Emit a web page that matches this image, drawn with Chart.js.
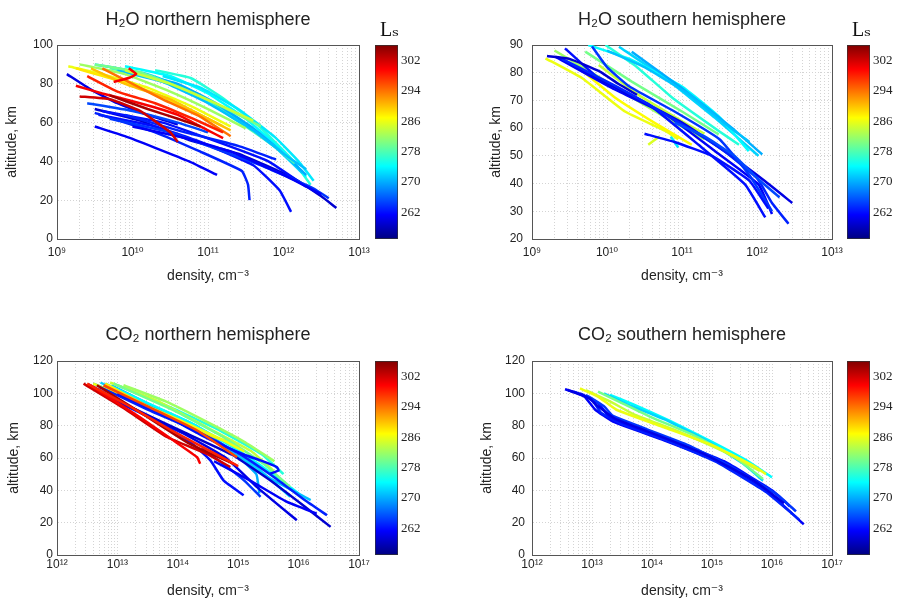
<!DOCTYPE html>
<html>
<head>
<meta charset="utf-8">
<script src="https://cdn.jsdelivr.net/npm/chart.js@4.4.1/dist/chart.umd.min.js"></script>
<style>
  html, body { margin: 0; padding: 0; background: #fff; overflow: hidden; }
  #wrap { position: relative; width: 899px; height: 599px; overflow: hidden; }
  #wrap canvas { position: absolute; }
</style>
</head>
<body>
<div id="wrap">
  <canvas id="h2oN" width="416" height="300" style="left:0px;top:0px;width:416px;height:300px"></canvas>
  <canvas id="h2oS" width="434" height="300" style="left:465px;top:0px;width:434px;height:300px"></canvas>
  <canvas id="co2N" width="416" height="300" style="left:0px;top:300px;width:416px;height:300px"></canvas>
  <canvas id="co2S" width="434" height="300" style="left:465px;top:300px;width:434px;height:300px"></canvas>
  <canvas id="cbH2oN" width="76" height="300" style="left:353px;top:0px;width:76px;height:300px"></canvas>
  <canvas id="cbH2oS" width="75" height="300" style="left:824px;top:0px;width:75px;height:300px"></canvas>
  <canvas id="cbCo2N" width="76" height="300" style="left:353px;top:300px;width:76px;height:300px"></canvas>
  <canvas id="cbCo2S" width="75" height="300" style="left:824px;top:300px;width:75px;height:300px"></canvas>
</div>
<script>
// ---- data (density given as log10 of cm^-3, altitude in km, colour = Ls) ----
const lsMin = 255;
const lsMax = 306;
const colorbarTicks = [262, 270, 278, 286, 294, 302];

const h2oDecades = [9, 10, 11, 12, 13];
const co2Decades = [12, 13, 14, 15, 16, 17];
const minorSteps = [2, 3, 4, 5, 6, 7, 8, 9];
const h2oNorthAltTicks = [0, 20, 40, 60, 80, 100];
const h2oSouthAltTicks = [20, 30, 40, 50, 60, 70, 80, 90];
const co2AltTicks = [0, 20, 40, 60, 80, 100, 120];

// H2O, northern hemisphere (drawn in this order, last on top)
const h2oNorthLs = [276, 274, 272, 270, 278, 273, 271,
  286, 282, 280, 284, 288,
  260, 261, 259, 262, 263, 262, 264, 261, 263, 265,
  290, 294, 298, 300, 302, 304, 300];
const h2oNorthDen = [
  [10.3, 10.77, 11.2, 11.65, 12.09, 12.36],
  [9.9, 10.5, 11.0, 11.5, 12.0, 12.3],
  [9.5, 10.2, 10.8, 11.4, 11.9, 12.25],
  [10.0, 10.6, 11.1, 11.6, 12.0, 12.3],
  [9.7, 10.3, 10.9, 11.5, 11.9, 12.15],
  [10.4, 10.9, 11.4, 11.9, 12.2, 12.4],
  [9.8, 10.4, 11.0, 11.6, 12.0, 12.3],
  [9.15, 9.6, 10.2, 10.8, 11.3],
  [9.3, 9.9, 10.5, 11.0, 11.5],
  [9.5, 10.1, 10.7, 11.2, 11.7],
  [9.9, 10.5, 11.1, 11.6],
  [9.25, 9.7, 10.3, 10.9, 11.2],
  [9.13, 9.45, 9.8, 10.2, 10.6],
  [9.5, 9.9, 10.3, 10.75, 11.12],
  [9.5, 10.1, 10.75, 11.4, 12.1, 12.5, 12.7],
  [9.55, 10.3, 10.9, 11.6, 11.95, 12.1],
  [9.5, 10.3, 10.9, 11.45, 11.53, 11.55],
  [9.6, 10.4, 11.2, 11.8, 12.3],
  [9.7, 10.5, 11.0, 11.7, 12.4, 12.6],
  [10.0, 10.7, 11.3, 12.0, 12.5],
  [9.9, 10.6, 11.4, 11.9],
  [9.4, 10.0, 10.6, 11.0],
  [9.45, 9.9, 10.5, 11.0, 11.3],
  [9.6, 10.0, 10.4, 10.9, 11.3],
  [9.4, 9.8, 10.3, 10.8, 11.2],
  [9.25, 9.6, 10.1, 10.6, 11.0, 11.2],
  [9.3, 9.7, 10.1, 10.5, 10.6],
  [9.7, 10.2, 10.6, 10.9],
  [9.75, 9.95, 10.05, 9.95]
];
const h2oNorthAlt = [
  [87, 83, 72.6, 59, 42, 28],
  [89, 84, 75, 62, 45, 32],
  [90, 85, 76, 62, 47, 34],
  [86, 80, 70, 57, 44, 33],
  [88, 83, 73, 58, 47, 39],
  [84, 78, 67, 52, 40, 30],
  [87, 81, 70, 56, 44, 36],
  [89, 85, 78, 68, 58],
  [90, 85, 76, 67, 57],
  [90, 86, 77, 68, 58],
  [87, 80, 70, 61],
  [88, 83, 75, 64, 58],
  [85, 77, 70, 64, 59],
  [58, 53, 47, 40, 33],
  [67, 61, 51, 44, 32, 22, 16],
  [64, 58, 50, 38, 25, 14],
  [65, 55, 45, 35, 28, 20],
  [66, 60, 49, 40, 27],
  [62, 55, 48, 38, 26, 21],
  [58, 52, 45, 33, 23],
  [64, 56, 48, 41],
  [70, 66, 60, 55],
  [88, 80, 72, 62, 56],
  [88, 80, 72, 63, 53],
  [84, 76, 70, 62, 55],
  [79, 75, 70, 64, 56, 52],
  [73.5, 72, 66, 55, 50],
  [74, 67, 62, 58],
  [81, 83, 85, 88]
];

// H2O, southern hemisphere
const h2oSouthLs = [272, 274, 270, 276, 271, 273,
  286, 287, 284, 280, 285, 282,
  261, 262, 260, 263, 264, 259, 265, 262];
const h2oSouthDen = [
  [10.16, 10.78, 11.44, 12.02],
  [9.75, 10.3, 11.0, 11.5, 11.89],
  [10.33, 11.0, 11.67, 12.07],
  [9.98, 10.4, 10.87, 11.49, 11.76],
  [10.0, 10.5, 11.1, 11.6, 11.9],
  [10.85, 10.9, 10.95],
  [9.18, 9.67, 10.24, 10.78, 10.95],
  [9.58, 10.11, 10.69, 11.13],
  [9.89, 10.42, 11.0, 11.3],
  [9.71, 10.33, 11.0, 11.49],
  [10.55, 10.7],
  [9.3, 9.8, 10.4, 10.9, 11.3],
  [9.31, 10.07, 10.78, 11.44, 12.02, 12.2],
  [9.44, 9.89, 10.56, 11.22, 11.84, 12.11],
  [9.6, 10.3, 11.0, 11.6, 12.1, 12.47],
  [9.4, 10.2, 10.9, 11.5, 12.0, 12.2, 12.42],
  [9.8, 10.0, 10.3, 10.9, 11.5, 11.9, 12.2],
  [9.2, 9.5, 9.9, 10.15, 10.4],
  [10.9, 11.3, 11.7, 12.0, 12.3],
  [10.5, 10.9, 11.4, 11.9, 12.15]
];
const h2oSouthAlt = [
  [89.4, 78, 63.7, 50],
  [90, 85, 75, 64, 51.7],
  [87.6, 74.4, 60, 50.5],
  [90, 82, 71, 59, 54],
  [88, 82, 72, 61, 55],
  [57, 55, 53],
  [85.2, 78, 66, 59, 56],
  [82.8, 71, 61, 54],
  [82.8, 72, 62.5, 58],
  [87.6, 76.8, 66, 57.7],
  [54, 57],
  [88, 80, 70, 62, 56],
  [85.8, 74.4, 65, 51.7, 39.7, 29],
  [88.8, 78, 68.5, 54, 39.7, 27.8],
  [82, 72, 62, 51, 41, 33],
  [85, 74, 63, 53, 42, 33, 25.5],
  [89.5, 82, 75, 66, 56, 43, 30],
  [86, 85, 80.5, 76, 72],
  [62, 57, 50, 42, 35],
  [58, 55, 50, 41, 31]
];

// CO2, northern hemisphere
const co2NorthLs = [272, 270, 274, 276, 271,
  284, 288, 280, 286, 282,
  262, 260, 263, 259, 262, 264, 261,
  302, 300, 304, 296, 298];
const co2NorthDen = [
  [12.72, 13.66, 14.48, 15.31, 15.86],
  [12.9, 13.6, 14.3, 14.9, 15.3, 15.35],
  [12.8, 13.5, 14.2, 14.9, 15.5, 16.0],
  [13.0, 13.9, 14.7, 15.4, 15.75],
  [12.6, 13.4, 14.1, 14.8, 15.4, 16.2],
  [12.88, 13.66, 14.48, 15.2, 15.59],
  [12.8, 13.5, 14.32, 14.92],
  [12.94, 13.9, 14.76, 15.42, 15.86],
  [12.6, 13.3, 14.0, 14.7, 15.1],
  [13.1, 13.8, 14.5, 15.1, 15.6],
  [12.52, 13.1, 13.7, 14.2, 14.54, 14.76, 15.09],
  [12.6, 13.4, 14.1, 14.8, 15.31, 15.97],
  [12.7, 13.5, 14.3, 15.0, 15.6, 16.1, 16.47],
  [12.5, 13.3, 14.1, 14.9, 15.5, 16.1, 16.53],
  [13.0, 13.8, 14.5, 15.1, 15.37, 15.64, 15.67, 15.53],
  [14.4, 14.8, 15.1, 15.37],
  [14.6, 15.2, 15.8, 16.3],
  [12.44, 13.1, 13.82, 14.48, 14.87],
  [12.55, 13.38, 13.93, 14.32, 14.37],
  [12.66, 13.43, 14.2, 14.92],
  [12.77, 13.55, 14.32, 14.98],
  [12.5, 13.2, 13.9, 14.6, 15.0]
];
const co2NorthAlt = [
  [106.7, 89, 73, 54, 36],
  [105, 92, 80, 64, 50, 38],
  [106, 94, 82, 67, 52, 38],
  [105, 91, 77, 62, 50],
  [106, 94, 82, 66, 50, 34],
  [106.7, 95.4, 79, 64.6, 52],
  [106, 92, 77, 68.7],
  [106, 90, 72.8, 56.4, 42],
  [106, 95, 84, 72, 64],
  [105, 95, 82, 70, 58],
  [105.6, 93, 82, 70, 58.5, 46, 37],
  [104, 88, 75, 60, 42, 21.5],
  [104, 90, 77, 63, 48, 34, 24.6],
  [105, 90, 76, 62, 47, 30, 17.4],
  [100, 86, 72, 62, 58.5, 54.4, 52.3, 50.3],
  [66, 55, 46, 36],
  [58, 46, 33, 25.6],
  [106, 91, 73, 62.6, 54.4],
  [105, 85, 70.8, 60.5, 56.4],
  [105, 87, 68.7, 56.4],
  [105, 91, 77, 60.5],
  [106, 92, 77, 63, 55]
];

// CO2, southern hemisphere
const co2SouthLs = [274, 272, 280, 284, 286, 261, 263, 262, 264, 260];
const co2SouthDen = [
  [13.3, 13.7, 14.3, 15.0, 15.6, 16.0],
  [13.2, 13.6, 14.2, 14.9, 15.5, 15.85],
  [13.1, 13.5, 14.0, 14.7, 15.4, 15.85],
  [12.9, 13.3, 13.7, 14.4, 15.2, 15.8],
  [12.8, 13.1, 13.4, 14.2, 15.0, 15.7, 15.9],
  [12.55, 12.85, 13.05, 13.35, 14.2, 15.05, 15.9, 16.53],
  [12.7, 13.0, 13.15, 13.5, 14.3, 15.1, 15.9, 16.45],
  [12.8, 13.1, 13.3, 13.7, 14.4, 15.2, 16.0, 16.3],
  [12.9, 13.2, 13.35, 13.9, 14.6, 15.3, 16.1, 16.4],
  [12.6, 12.95, 13.1, 13.4, 14.1, 14.9, 15.7, 16.2]
];
const co2SouthAlt = [
  [99, 93, 83, 70, 58, 48],
  [100, 93, 84, 71, 57, 46],
  [101, 94, 85, 74, 60, 47],
  [102, 95, 87, 77, 64, 52],
  [103, 98, 90, 79, 68, 55, 50],
  [102.5, 99, 90, 82.5, 71, 58.5, 40, 19],
  [101, 96, 88, 81, 70, 57, 39, 22],
  [100, 94, 85, 79, 70, 58, 40, 30],
  [99, 92, 86, 78, 68, 55, 37, 27],
  [102, 97, 92, 84, 74, 62, 46, 32]
];

// ---- helpers ----
Chart.defaults.font.family = "'Liberation Sans', Arial, 'DejaVu Sans', sans-serif";
Chart.defaults.color = '#222';
const SERIF = "'Liberation Serif', 'DejaVu Serif', serif";

function jet(t) {
  const c = v => Math.round(255 * Math.max(0, Math.min(1, v)));
  return `rgb(${c(1.5 - Math.abs(4 * t - 3))},${c(1.5 - Math.abs(4 * t - 2))},${c(1.5 - Math.abs(4 * t - 1))})`;
}
function lsColor(ls) {
  return jet((ls - lsMin) / (lsMax - lsMin));
}

const SUP = { '0': '⁰', '1': '¹', '2': '²', '3': '³', '4': '⁴', '5': '⁵', '6': '⁶', '7': '⁷', '8': '⁸', '9': '⁹', '-': '⁻' };
const sup = n => String(n).split('').map(ch => SUP[ch]).join('');

function logTickValues(decades) {
  const vals = [];
  decades.forEach((d, i) => {
    vals.push(Math.pow(10, d));
    if (i < decades.length - 1) minorSteps.forEach(m => vals.push(m * Math.pow(10, d)));
  });
  return vals;
}
function decadeLabel(v) {
  const e = Math.log10(v);
  return Math.abs(e - Math.round(e)) < 1e-9 ? '10' + sup(Math.round(e)) : '';
}

const GRID = '#d4d4d4';
const FRAME = '#555';

function makePanel(id, p) {
  const datasets = p.ls.map((ls, i) => ({
    data: p.den[i].map((d, j) => ({ x: Math.pow(10, d), y: p.alt[i][j] })),
    borderColor: lsColor(ls),
    borderWidth: 2.5,
    showLine: true,
    pointRadius: 0,
    tension: 0.12,
    fill: false
  })).reverse();

  const xMin = Math.pow(10, p.decades[0]);
  const xMax = Math.pow(10, p.decades[p.decades.length - 1]);
  const yMin = p.yTicks[0];
  const yMax = p.yTicks[p.yTicks.length - 1];

  new Chart(document.getElementById(id), {
    type: 'scatter',
    data: { datasets },
    options: {
      responsive: false,
      animation: false,
      devicePixelRatio: 1,
      layout: { padding: 0 },
      plugins: {
        legend: { display: false },
        tooltip: { enabled: false },
        title: {
          display: true,
          text: p.title,
          color: '#222',
          font: { size: 18, weight: 'normal', lineHeight: 1 },
          padding: p.titlePad
        }
      },
      scales: {
        x: {
          type: 'logarithmic',
          min: xMin, max: xMax,
          afterBuildTicks: s => { s.ticks = logTickValues(p.decades).map(v => ({ value: v })); },
          afterFit: s => { s.height = p.xHeight; },
          ticks: { autoSkip: false, maxRotation: 0, padding: p.xTickPad, font: { size: 12 }, callback: v => decadeLabel(v) },
          grid: { color: GRID, drawTicks: false, lineWidth: 1 },
          border: { display: true, color: FRAME, dash: [1, 2] },
          title: { display: true, text: 'density, cm⁻³', font: { size: 14 }, padding: { top: 0, bottom: p.xTitlePad } }
        },
        x2: {
          type: 'logarithmic', position: 'top',
          min: xMin, max: xMax,
          ticks: { display: false },
          grid: { display: false },
          border: { display: true, color: FRAME },
          afterFit: s => { s.height = 0; }
        },
        y: {
          type: 'linear',
          min: yMin, max: yMax,
          afterBuildTicks: s => { s.ticks = p.yTicks.map(v => ({ value: v })); },
          afterFit: s => { s.width = p.yWidth; },
          ticks: { padding: p.yTickPad, font: { size: 12 } },
          grid: { color: GRID, drawTicks: false, lineWidth: 1 },
          border: { display: true, color: FRAME, dash: [1, 2] },
          title: { display: true, text: 'altitude, km', font: { size: 14 }, padding: { top: p.yTitlePad, bottom: 0 } }
        },
        y2: {
          type: 'linear', position: 'right',
          min: yMin, max: yMax,
          ticks: { display: false },
          grid: { display: false },
          border: { display: true, color: FRAME },
          afterFit: s => { s.width = p.y2Width; }
        }
      }
    }
  });
}

function jetGradient(chart) {
  const a = chart.chartArea;
  if (!a) return lsColor(280);
  const g = chart.ctx.createLinearGradient(0, a.bottom, 0, a.top);
  for (let i = 0; i <= 16; i++) g.addColorStop(i / 16, jet(i / 16));
  return g;
}

function makeColorbar(id, c) {
  new Chart(document.getElementById(id), {
    type: 'bar',
    data: {
      labels: [''],
      datasets: [{
        data: [[lsMin, lsMax]],
        backgroundColor: ctx => jetGradient(ctx.chart),
        borderColor: '#333',
        borderWidth: 1,
        borderSkipped: false,
        barPercentage: 1,
        categoryPercentage: 1
      }]
    },
    options: {
      responsive: false,
      animation: false,
      devicePixelRatio: 1,
      layout: { padding: c.padding },
      plugins: {
        legend: { display: false },
        tooltip: { enabled: false },
        title: {
          display: c.showTitle,
          text: ' Lₛ',
          align: 'start',
          color: '#111',
          font: { family: SERIF, size: 20, weight: 'normal', lineHeight: 1 },
          padding: { top: 21, bottom: 4 }
        }
      },
      scales: {
        x: { display: false },
        y: {
          position: 'right',
          min: lsMin, max: lsMax,
          afterBuildTicks: s => { s.ticks = colorbarTicks.map(v => ({ value: v })); },
          afterFit: s => { s.width = c.yWidth; },
          ticks: { padding: 3, font: { family: SERIF, size: 13 } },
          grid: { display: false, drawTicks: false },
          border: { display: false }
        }
      }
    }
  });
}

makePanel('h2oN', {
  title: 'H₂O northern hemisphere', ls: h2oNorthLs, den: h2oNorthDen, alt: h2oNorthAlt,
  decades: h2oDecades, yTicks: h2oNorthAltTicks,
  titlePad: { top: 11, bottom: 16 }, xHeight: 61, xTickPad: 6, xTitlePad: 15,
  yWidth: 57, y2Width: 57, yTitlePad: 4, yTickPad: 4
});
makePanel('h2oS', {
  title: 'H₂O southern hemisphere', ls: h2oSouthLs, den: h2oSouthDen, alt: h2oSouthAlt,
  decades: h2oDecades, yTicks: h2oSouthAltTicks,
  titlePad: { top: 11, bottom: 16 }, xHeight: 61, xTickPad: 6, xTitlePad: 15,
  yWidth: 67, y2Width: 67, yTitlePad: 23, yTickPad: 9
});
makePanel('co2N', {
  title: 'CO₂ northern hemisphere', ls: co2NorthLs, den: co2NorthDen, alt: co2NorthAlt,
  decades: co2Decades, yTicks: co2AltTicks,
  titlePad: { top: 26, bottom: 17 }, xHeight: 45, xTickPad: 2, xTitlePad: 0,
  yWidth: 57, y2Width: 57, yTitlePad: 6, yTickPad: 4
});
makePanel('co2S', {
  title: 'CO₂ southern hemisphere', ls: co2SouthLs, den: co2SouthDen, alt: co2SouthAlt,
  decades: co2Decades, yTicks: co2AltTicks,
  titlePad: { top: 26, bottom: 17 }, xHeight: 45, xTickPad: 2, xTitlePad: 0,
  yWidth: 67, y2Width: 67, yTitlePad: 14, yTickPad: 7
});

makeColorbar('cbH2oN', { showTitle: true, padding: { left: 22, top: 0, right: 0, bottom: 61 }, yWidth: 31 });
makeColorbar('cbH2oS', { showTitle: true, padding: { left: 23, top: 0, right: 0, bottom: 61 }, yWidth: 29 });
makeColorbar('cbCo2N', { showTitle: false, padding: { left: 22, top: 61, right: 0, bottom: 45 }, yWidth: 31 });
makeColorbar('cbCo2S', { showTitle: false, padding: { left: 23, top: 61, right: 0, bottom: 45 }, yWidth: 29 });
</script>
</body>
</html>
